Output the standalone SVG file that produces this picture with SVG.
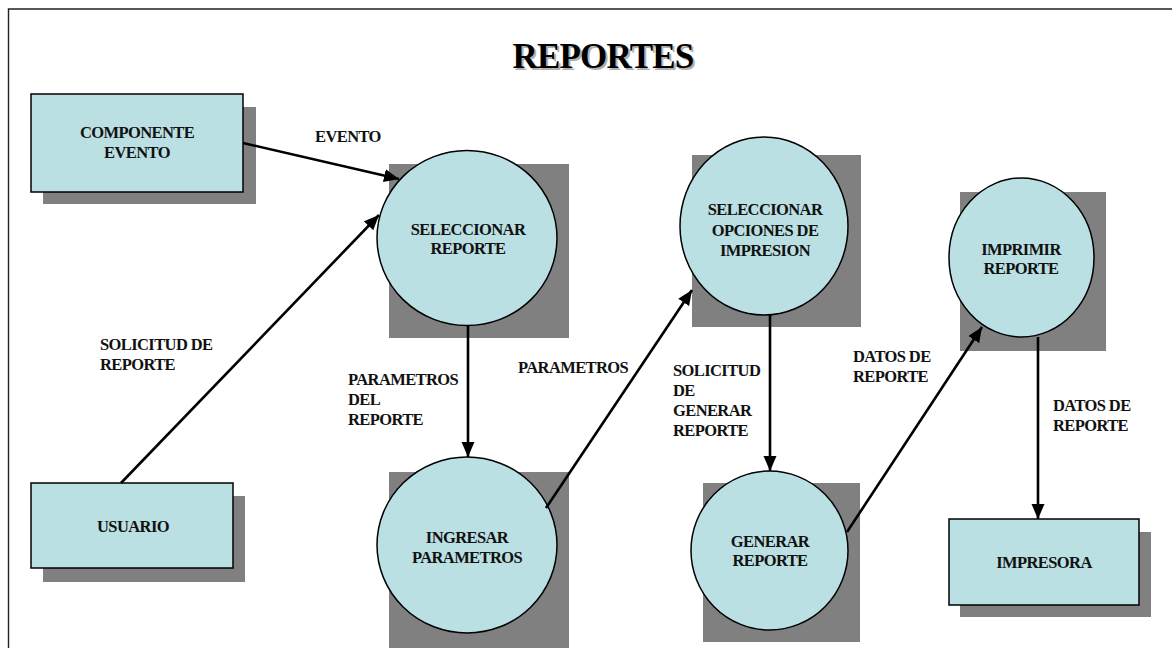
<svg xmlns="http://www.w3.org/2000/svg" width="1172" height="648" viewBox="0 0 1172 648">
<defs>
<marker id="ah" markerUnits="userSpaceOnUse" markerWidth="16" markerHeight="14" refX="15" refY="6.5" orient="auto">
<path d="M0,0 L15,6.5 L0,13 z" fill="#000"/>
</marker>
<style>
.shadow{fill:#808080;stroke:none}
.node{fill:#bae0e3;stroke:#000;stroke-width:1.5}
.t{font-family:"Liberation Serif","Times New Roman",serif;font-weight:bold;font-size:16.5px;fill:#111;letter-spacing:-0.6px}
.c{text-anchor:middle}
.conn{stroke:#000;stroke-width:2.6;fill:none;marker-end:url(#ah)}
.ttl{font-family:"Liberation Serif","Times New Roman",serif;font-weight:bold;font-size:35px;text-anchor:middle;letter-spacing:-0.8px}
</style>
</defs>
<rect x="0" y="0" width="1172" height="648" fill="#fff"/>
<path d="M8.5,660 L8.5,9 L1180,9" fill="none" stroke="#222" stroke-width="1.4"/>
<g id="title">
<text class="ttl" x="605" y="70" fill="#b0b0b0">REPORTES</text>
<text class="ttl" x="603" y="68" fill="#000">REPORTES</text>
</g>
<g id="componente-evento">
<rect class="shadow" x="43" y="107" width="213" height="97"/>
<rect class="node" x="31" y="94" width="212" height="98"/>
<text class="t c" x="137" y="138">COMPONENTE</text>
<text class="t c" x="137" y="158">EVENTO</text>
</g>
<g id="usuario">
<rect class="shadow" x="43" y="496" width="202" height="86"/>
<rect class="node" x="31" y="483" width="202" height="85"/>
<text class="t c" x="133" y="532">USUARIO</text>
</g>
<g id="seleccionar-reporte">
<rect class="shadow" x="389" y="164" width="180" height="174"/>
<ellipse class="node" cx="467" cy="238" rx="90" ry="87.5"/>
<text class="t c" x="468" y="235">SELECCIONAR</text>
<text class="t c" x="468" y="254">REPORTE</text>
</g>
<g id="ingresar-parametros">
<rect class="shadow" x="389" y="472" width="180" height="176"/>
<ellipse class="node" cx="467" cy="545" rx="90" ry="88"/>
<text class="t c" x="467" y="543">INGRESAR</text>
<text class="t c" x="467" y="563">PARAMETROS</text>
</g>
<g id="seleccionar-opciones">
<rect class="shadow" x="692" y="155" width="169" height="172"/>
<ellipse class="node" cx="764" cy="226" rx="84" ry="89"/>
<text class="t c" x="765" y="215">SELECCIONAR</text>
<text class="t c" x="765" y="236">OPCIONES DE</text>
<text class="t c" x="765" y="256">IMPRESION</text>
</g>
<g id="generar-reporte">
<rect class="shadow" x="703" y="483" width="157" height="159"/>
<ellipse class="node" cx="769.5" cy="550.5" rx="78.5" ry="79.5"/>
<text class="t c" x="770" y="547">GENERAR</text>
<text class="t c" x="770" y="566">REPORTE</text>
</g>
<g id="imprimir-reporte">
<rect class="shadow" x="960" y="192" width="146" height="159"/>
<ellipse class="node" cx="1021.5" cy="257.5" rx="72.5" ry="79.5"/>
<text class="t c" x="1021" y="255">IMPRIMIR</text>
<text class="t c" x="1021" y="274">REPORTE</text>
</g>
<g id="impresora">
<rect class="shadow" x="960" y="532" width="191" height="85"/>
<rect class="node" x="949" y="519" width="190" height="86"/>
<text class="t c" x="1044" y="568">IMPRESORA</text>
</g>
<g id="connectors">
<line class="conn" x1="243" y1="143" x2="399" y2="179"/>
<line class="conn" x1="121" y1="483" x2="379" y2="215"/>
<line class="conn" x1="468" y1="325" x2="468" y2="457"/>
<line class="conn" x1="546" y1="508" x2="692" y2="290"/>
<line class="conn" x1="770" y1="315" x2="770" y2="471"/>
<line class="conn" x1="847" y1="532" x2="982" y2="327"/>
<line class="conn" x1="1038" y1="337" x2="1038" y2="519"/>
</g>
<g id="labels">
<text class="t" x="315" y="142">EVENTO</text>
<text class="t" x="100" y="350">SOLICITUD DE</text>
<text class="t" x="100" y="370">REPORTE</text>
<text class="t" x="348" y="385">PARAMETROS</text>
<text class="t" x="348" y="405">DEL</text>
<text class="t" x="348" y="425">REPORTE</text>
<text class="t" x="518" y="373">PARAMETROS</text>
<text class="t" x="673" y="376">SOLICITUD</text>
<text class="t" x="673" y="396">DE</text>
<text class="t" x="673" y="416">GENERAR</text>
<text class="t" x="673" y="436">REPORTE</text>
<text class="t" x="853" y="362">DATOS DE</text>
<text class="t" x="853" y="382">REPORTE</text>
<text class="t" x="1053" y="411">DATOS DE</text>
<text class="t" x="1053" y="431">REPORTE</text>
</g>
</svg>
